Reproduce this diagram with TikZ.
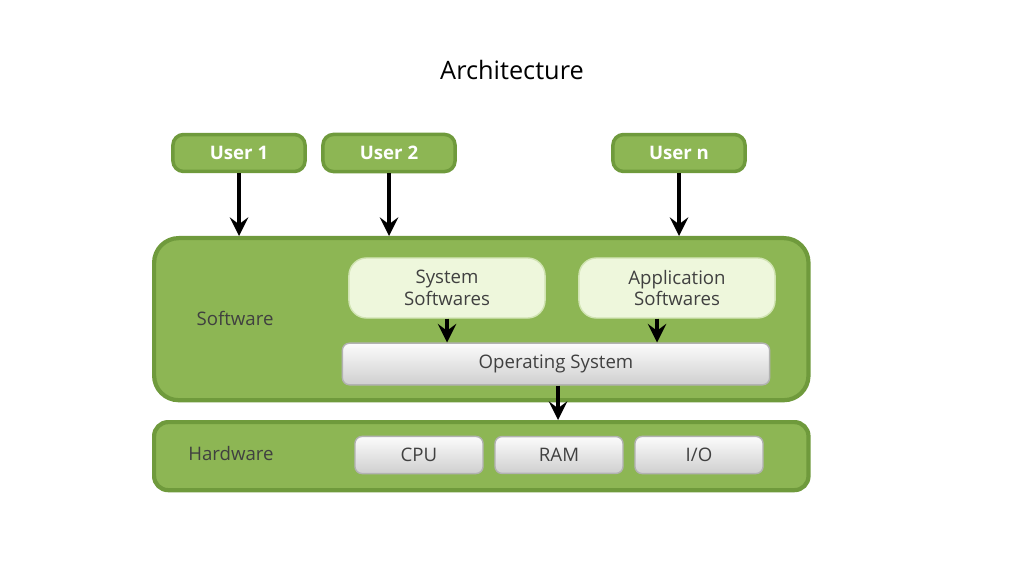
\documentclass[tikz,border=0pt]{standalone}
\usepackage{fontspec}
\setmainfont{Open Sans}
\usetikzlibrary{positioning}
\definecolor{panelgreen}{HTML}{8DB654}
\definecolor{edgegreen}{HTML}{6F9A3C}
\definecolor{palegreen}{HTML}{EEF7DC}
\definecolor{boxgray}{HTML}{DDDDDD}
\definecolor{textgray}{HTML}{404040}
\begin{document}
\begin{tikzpicture}[x=0.01cm, y=-0.01cm]

% definitions
\tikzstyle{panel} = [rectangle, rounded corners=7pt, draw=edgegreen, line width=1.2pt, fill=panelgreen, anchor=north west]
\tikzstyle{user} = [rectangle, rounded corners=3pt, minimum width=1.32cm, minimum height=0.33cm, draw=edgegreen, line width=1pt, fill=panelgreen, text=white, font=\fontsize{5.3}{6}\selectfont\bfseries]
\tikzstyle{soft} = [rectangle, rounded corners=5pt, minimum width=1.96cm, minimum height=0.6cm, draw=palegreen!70!panelgreen, fill=palegreen, text=textgray, align=center, font=\fontsize{5.3}{6.2}\selectfont]
\tikzstyle{gray} = [rectangle, rounded corners=2pt, minimum height=0.33cm, draw=gray!60, top color=white!90!boxgray, bottom color=boxgray!85!gray, text=textgray, font=\fontsize{5.3}{6}\selectfont]
\tikzstyle{label} = [text=textgray, font=\fontsize{5.3}{6}\selectfont]
\tikzstyle{arrow} = [->, >=stealth, line width=1.3pt]

\useasboundingbox (0,0) rectangle (1024,576);

% title
\node (title) at (512,70) {\fontsize{7.2}{8}\selectfont Architecture};

% users
\node (u1) [user] at (239,153) {User 1};
\node (u2) [user] at (389,153) {User 2};
\node (un) [user] at (679,153) {User n};

% software
\node (sw) [panel, minimum width=6.54cm, minimum height=1.62cm] at (152,236) {};
\node (swl) [label] at (235,318) {Software};
\node (sys) [soft] at (447,288) {System\\Softwares};
\node (app) [soft] at (677,288) {Application\\Softwares};
\node (os) [gray, minimum width=4.27cm] at (556,364) {Operating System};

% hardware
\node (hw) [panel, rounded corners=4pt, minimum width=6.54cm, minimum height=0.68cm] at (152,420) {};
\node (hwl) [label] at (231,454) {Hardware};
\node (cpu) [gray, minimum width=1.28cm] at (419,455) {CPU};
\node (ram) [gray, minimum width=1.28cm] at (559,455) {RAM};
\node (io) [gray, minimum width=1.28cm] at (699,455) {I/O};

\coordinate (t1) at (239,236);
\coordinate (t2) at (389,236);
\coordinate (tn) at (679,236);
\coordinate (th) at (558,420);

\draw [arrow] (u1) -- (t1);
\draw [arrow] (u2) -- (t2);
\draw [arrow] (un) -- (tn);
\draw [arrow] (sys.south) -- (sys.south |- os.north);
\draw [arrow] (app.south -| 657,0) -- (os.north -| 657,0);
\draw [arrow] (os.south -| th) -- (th);

\end{tikzpicture}
\end{document}
